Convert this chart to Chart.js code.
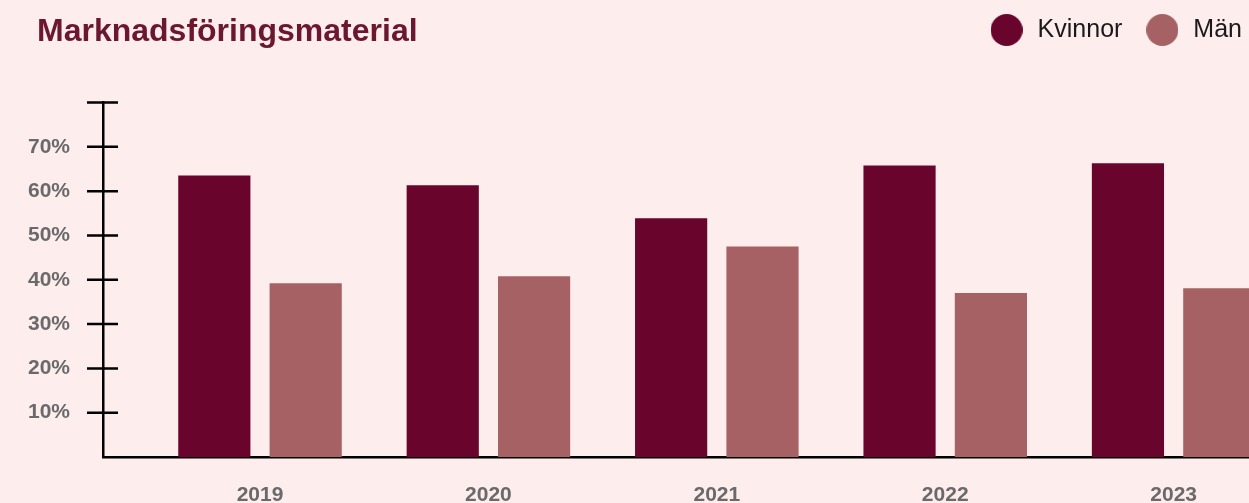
<!DOCTYPE html>
<html lang="sv">
<head>
<meta charset="utf-8">
<title>Marknadsföringsmaterial</title>
<script src="https://cdn.jsdelivr.net/npm/chart.js@4/dist/chart.umd.min.js"></script>
<style>
  html, body { margin: 0; padding: 0; background: #fdeded; overflow: hidden; }
  #wrap { position: relative; width: 1249px; height: 503px; }
</style>
</head>
<body>
<div id="wrap"><canvas id="chart"></canvas></div>
<script>
const years = [2019, 2020, 2021, 2022, 2023];
const kvinnor = [63.5, 61.3, 53.9, 65.8, 66.3];
const man = [39.2, 40.8, 47.5, 37.0, 38.1];
const seriesNames = ['Kvinnor', 'Män'];
const seriesColors = ['#69042d', '#a56163'];

Chart.defaults.font.family = '"Liberation Sans", Arial, sans-serif';

// round legend markers, drawn once per series
function dot(color) {
    const c = document.createElement('canvas');
    c.width = 32;
    c.height = 32;
    const g = c.getContext('2d');
    g.fillStyle = color;
    g.beginPath();
    g.arc(16, 16, 16, 0, Math.PI * 2);
    g.fill();
    return c;
}
const dots = seriesColors.map(dot);

// tick marks that cross the y axis line, and an indent for the title
const axisExtras = {
    id: 'axisExtras',
    afterLayout(chart) {
        chart.titleBlock.left = 37;
    },
    afterDraw(chart) {
        const y = chart.scales.y;
        const x0 = chart.chartArea.left;
        const ctx = chart.ctx;
        ctx.save();
        ctx.strokeStyle = '#000';
        ctx.lineWidth = 2.5;
        ctx.beginPath();
        y.ticks.forEach(t => {
            if (t.value === 0) return;
            const py = y.getPixelForValue(t.value);
            ctx.moveTo(x0 - 16, py);
            ctx.lineTo(x0 + 15, py);
        });
        ctx.stroke();
        ctx.restore();
    }
};

new Chart(document.getElementById('chart'), {
    type: 'bar',
    data: {
        labels: years,
        datasets: [
            { label: seriesNames[0], data: kvinnor, backgroundColor: seriesColors[0] },
            { label: seriesNames[1], data: man, backgroundColor: seriesColors[1] }
        ]
    },
    options: {
        responsive: true,
        maintainAspectRatio: false,
        animation: false,
        categoryPercentage: 0.8,
        barPercentage: 0.79,
        layout: { padding: { top: -4, left: 0, right: -14.5, bottom: 0 } },
        plugins: {
            tooltip: { enabled: false },
            title: {
                display: true,
                text: 'Marknadsföringsmaterial',
                align: 'start',
                color: '#6a172f',
                weight: 500,
                font: { size: 32, weight: 'bold' },
                padding: { top: -39.2, bottom: 50.8 }
            },
            legend: {
                position: 'top',
                align: 'end',
                labels: {
                    usePointStyle: true,
                    pointStyleWidth: 37,
                    boxHeight: 25,
                    padding: 21.5,
                    color: '#1a1a1a',
                    font: { size: 25 },
                    generateLabels: chart =>
                        Chart.defaults.plugins.legend.labels.generateLabels(chart)
                            .map((item, i) => Object.assign(item, { pointStyle: dots[i] }))
                }
            }
        },
        scales: {
            x: {
                type: 'linear',
                offset: false,
                min: 2018.3126,
                max: 2023.330,
                z: 1,
                grid: { display: false, drawTicks: false },
                border: { display: true, color: '#000', width: 2.5 },
                ticks: {
                    stepSize: 1,
                    includeBounds: false,
                    padding: 26,
                    color: '#6a6a6a',
                    font: { size: 21, weight: 'bold' },
                    callback: v => String(v)
                },
                afterFit: s => { s.height = 46; }
            },
            y: {
                min: 0,
                max: 80,
                grid: { display: false, drawTicks: false },
                border: { display: true, color: '#000', width: 2.5 },
                ticks: {
                    stepSize: 10,
                    padding: 33,
                    color: '#6a6a6a',
                    font: { size: 21, weight: 'bold' },
                    callback: v => (v === 0 || v === 80) ? '' : v + '%'
                },
                afterFit: s => { s.width = 103; }
            }
        }
    },
    plugins: [axisExtras]
});
</script>
</body>
</html>
